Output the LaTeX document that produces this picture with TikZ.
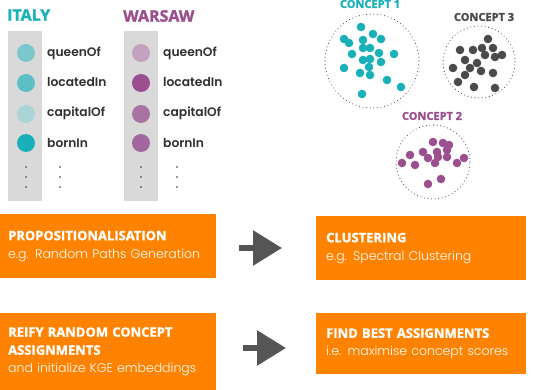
\documentclass[tikz,border=0pt]{standalone}
\usepackage{fontspec}
\usepackage{tikz}
\usetikzlibrary{arrows.meta}
\setmainfont{Open Sans}
\newfontfamily\heavyfont{Open Sans}[BoldFeatures={FakeBold=1.6}]
\newfontfamily\labelfont{Poppins SemiBold}
\newfontfamily\lightfont{Poppins Light}

\definecolor{ItalyTeal}{HTML}{1AB0B8}
\definecolor{WarsawPurple}{HTML}{9B4F8E}
\definecolor{BoxOrange}{HTML}{FF8300}
\definecolor{ArrowGray}{HTML}{555555}
\definecolor{ColumnGray}{HTML}{D9D9D9}
\definecolor{ClusterGray}{HTML}{4A4A4A}
\definecolor{LabelGray}{HTML}{303030}

\begin{document}
\begin{tikzpicture}[x=1pt,y=-1pt]
  \tikzset{ColumnStyle/.style = {
    shape         = rectangle,
    fill          = ColumnGray,
    anchor        = north west,
    minimum width = 34pt,
    minimum height= 170pt,
    inner sep     = 0pt
    }
  }
  \tikzset{TitleStyle/.style = {
    anchor        = west,
    inner sep     = 0pt,
    font          = \heavyfont\bfseries\fontsize{16}{17}\selectfont
    }
  }
  \tikzset{RelStyle/.style = {
    shape         = circle,
    minimum size  = 18pt,
    inner sep     = 0pt
    }
  }
  \tikzset{RelLabelStyle/.style = {
    anchor        = west,
    inner sep     = 0pt,
    text          = LabelGray,
    font          = \labelfont\fontsize{12.3}{14}\selectfont
    }
  }
  \tikzset{ClusterStyle/.style = {
    shape         = circle,
    draw          = ClusterGray,
    line width    = 1.1pt,
    line cap      = round,
    dash pattern  = on 0pt off 3.6pt,
    inner sep     = 0pt
    }
  }
  \tikzset{ConceptStyle/.style = {
    inner sep     = 0pt,
    font          = \heavyfont\bfseries\fontsize{11}{13}\selectfont
    }
  }
  \tikzset{BoxStyle/.style = {
    shape         = rectangle,
    fill          = BoxOrange,
    anchor        = north west,
    text          = white,
    align         = left,
    inner xsep    = 8pt,
    inner ysep    = 0pt,
    font          = \fontsize{12.5}{18}\selectfont
    }
  }
  \tikzset{ArrowStyle/.style = {
    draw          = ArrowGray,
    line width    = 6pt,
    -{Triangle[length=29pt, width=34pt]}
    }
  }
  \newcommand{\boxhead}[1]{{\heavyfont\bfseries\fontsize{13}{18}\selectfont #1}}

  \useasboundingbox (0,0) rectangle (533,390);

  % the two entity columns
  \node[ColumnStyle](colI) at (8,31) {};
  \node[ColumnStyle](colW) at (124,31) {};
  \node[TitleStyle, text=ItalyTeal](italy) at (7,15) {ITALY};
  \node[TitleStyle, text=WarsawPurple](warsaw) at (123,16) {WARSAW};

  \node[RelStyle, fill={rgb,255:red,124;green,199;blue,203}](I1) at (26,53) {};
  \node[RelStyle, fill={rgb,255:red,92;green,191;blue,197}](I2) at (26,83) {};
  \node[RelStyle, fill={rgb,255:red,169;green,213;blue,215}](I3) at (26,114) {};
  \node[RelStyle, fill=ItalyTeal](I4) at (26,143) {};
  \node[RelStyle, fill={rgb,255:red,196;green,162;blue,191}](W1) at (141,53) {};
  \node[RelStyle, fill=WarsawPurple](W2) at (141,83) {};
  \node[RelStyle, fill={rgb,255:red,168;green,115;blue,163}](W3) at (141,114) {};
  \node[RelStyle, fill={rgb,255:red,163;green,103;blue,159}](W4) at (141,143) {};

  \node[RelLabelStyle](lI1) at (47,53) {queenOf};
  \node[RelLabelStyle](lI2) at (47,82) {locatedIn};
  \node[RelLabelStyle](lI3) at (47,113) {capitalOf};
  \node[RelLabelStyle](lI4) at (47,143) {bornIn};
  \node[RelLabelStyle](lW1) at (163,53) {queenOf};
  \node[RelLabelStyle](lW2) at (163,82) {locatedIn};
  \node[RelLabelStyle](lW3) at (163,113) {capitalOf};
  \node[RelLabelStyle](lW4) at (163,143) {bornIn};

  % vertical ellipsis under each list
  \foreach \x in {26,60,141,177}
    \foreach \y in {167,177,187}
      \fill[LabelGray] (\x,\y) circle (0.8pt);

  % concept clusters
  \node[ClusterStyle, minimum size=94pt](C1) at (372,61) {};
  \node[ClusterStyle, minimum size=72pt](C3) at (479,62) {};
  \node[ClusterStyle, minimum size=74pt](C2) at (433,162) {};
  \node[ConceptStyle, text=ItalyTeal](c1) at (370,4) {CONCEPT 1};
  \node[ConceptStyle, text=ClusterGray](c3) at (484,17) {CONCEPT 3};
  \node[ConceptStyle, text=WarsawPurple](c2) at (432,116) {CONCEPT 2};

  \foreach \x/\y in {361/27,344/39,349/43,363/40,373/34,381/39,363/48,370/48,
      352/54,379/53,394/54,363/60,370/59,381/62,344/68,360/73,370/75,369/67,
      387/80,401/87,362/94}
    \fill[ItalyTeal] (\x,\y) circle (4.3pt);
  \foreach \x/\y in {488/39,460/50,473/50,482/48,493/48,502/55,495/57,465/60,
      485/55,477/63,470/68,481/71,453/68,493/73,465/75,458/82,474/87,495/88}
    \fill[ClusterGray] (\x,\y) circle (4.3pt);
  \foreach \x/\y in {433/142,443/143,449/145,447/150,437/152,423/152,410/155,
      402/163,415/165,428/158,438/157,447/157,435/163,457/163,464/158,
      428/184,441/179}
    \fill[WarsawPurple] (\x,\y) circle (4.3pt);

  % pipeline steps
  \node[BoxStyle, minimum width=210pt, minimum height=64pt, text width=200pt](prop) at (0,214)
    {\boxhead{PROPOSITIONALISATION}\\{\lightfont e.g. Random Paths Generation}};
  \node[BoxStyle, minimum width=206pt, minimum height=64pt, text width=190pt, inner xsep=10pt](clust) at (316,216)
    {\boxhead{CLUSTERING}\\{\lightfont e.g. Spectral Clustering}};
  \node[BoxStyle, minimum width=212pt, minimum height=77pt, text width=200pt](reify) at (0,313)
    {\boxhead{REIFY RANDOM CONCEPT}\\\boxhead{ASSIGNMENTS}\\{\lightfont and initialize KGE embeddings}};
  \node[BoxStyle, minimum width=206pt, minimum height=61pt, text width=190pt, inner xsep=10pt](best) at (316,313)
    {\boxhead{FIND BEST ASSIGNMENTS}\\{\lightfont i.e. maximise concept scores}};

  \coordinate (a1s) at (239,248);
  \coordinate (a1e) at (282,248);
  \coordinate (a2s) at (243,348);
  \coordinate (a2e) at (286,348);
  \draw[ArrowStyle](a1s) -- (a1e);
  \draw[ArrowStyle](a2s) -- (a2e);
\end{tikzpicture}
\end{document}
